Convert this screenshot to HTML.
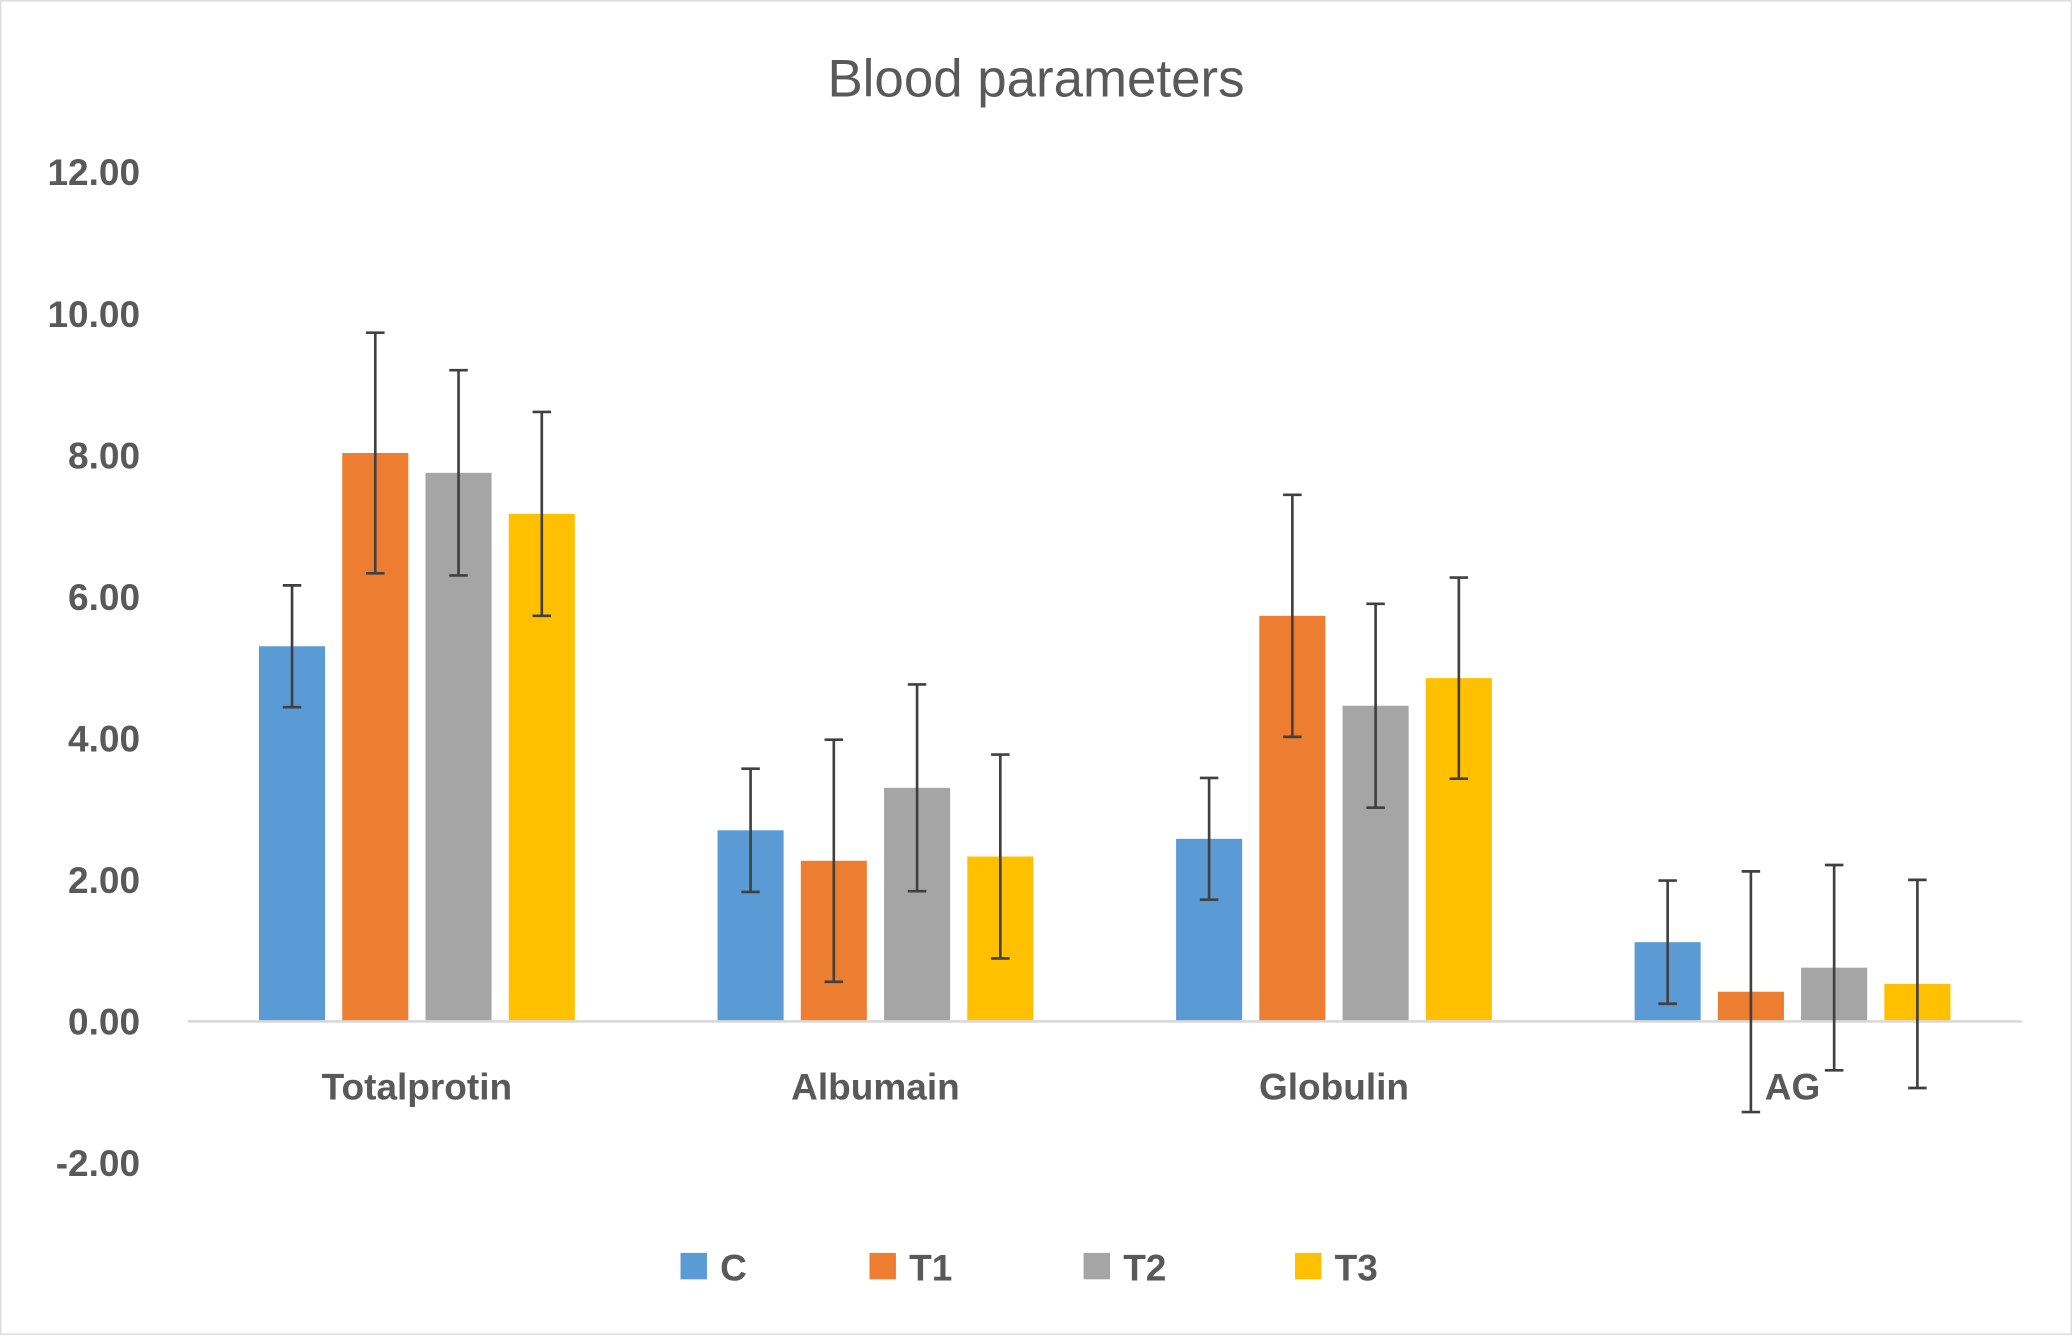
<!DOCTYPE html>
<html><head><meta charset="utf-8"><style>
html,body{margin:0;padding:0;background:#fff;}
svg{display:block;font-family:"Liberation Sans",sans-serif;}
</style></head><body>
<svg id="chart" width="2072" height="1335" viewBox="0 0 1568 1010" xmlns="http://www.w3.org/2000/svg">
<rect x="0.5" y="0.5" width="1567" height="1009" fill="#fff" stroke="#d9d9d9"/>
<text x="784" y="73" text-anchor="middle" font-size="40" fill="#595959">Blood parameters</text>
<g id="plot"></g>
</svg>
<script>
const categories = ["Totalprotin","Albumain","Globulin","AG"];
const seriesNames = ["C","T1","T2","T3"];
const colors = ["#5b9bd5","#ed7d31","#a5a5a5","#ffc000"];
const valuesC  = [5.30, 2.70, 2.58, 1.12];
const valuesT1 = [8.03, 2.27, 5.73, 0.42];
const valuesT2 = [7.75, 3.30, 4.46, 0.76];
const valuesT3 = [7.17, 2.33, 4.85, 0.53];
const errC  = [0.86, 0.87, 0.86, 0.87];
const errT1 = [1.70, 1.71, 1.71, 1.70];
const errT2 = [1.45, 1.46, 1.44, 1.45];
const errT3 = [1.44, 1.44, 1.42, 1.47];
const yTicks = [-2, 0, 2, 4, 6, 8, 10, 12];

const NS = "http://www.w3.org/2000/svg";
const plot = document.getElementById("plot");
const x0 = 142, x1 = 1530, yTop = 130, yBot = 880, yMin = -2, yMax = 12;
function y(v){ return yBot - (v - yMin) / (yMax - yMin) * (yBot - yTop); }
const groupW = (x1 - x0) / categories.length;
function groupCenter(i){ return x0 + groupW * (i + 0.5); }
const barW = 50, step = 63;
function barX(i, s){ return groupCenter(i) - 1.5 * step + s * step - barW / 2; }
function mk(tag, attrs){ const e = document.createElementNS(NS, tag); for (const k in attrs) e.setAttribute(k, attrs[k]); plot.appendChild(e); return e; }

yTicks.forEach(t => {
  const e = mk("text", {x: 106, y: y(t) + 10, "text-anchor": "end", "font-size": 28, "font-weight": "bold", fill: "#595959"});
  e.textContent = t.toFixed(2);
  
  
});

const allVals = [valuesC, valuesT1, valuesT2, valuesT3];
const allErr = [errC, errT1, errT2, errT3];
allVals.forEach((vals, s) => {
  vals.forEach((v, i) => {
    const top = Math.min(y(v), y(0)), h = Math.abs(y(v) - y(0));
    const r = mk("rect", {x: barX(i, s), y: top, width: barW, height: h, fill: colors[s]});
    
    
  });
});

const axis = mk("line", {x1: x0, x2: x1, y1: y(0), y2: y(0), stroke: "#d9d9d9", "stroke-width": 2});



allVals.forEach((vals, s) => {
  vals.forEach((v, i) => {
    const cx = barX(i, s) + barW / 2, e = allErr[s][i];
    const g = document.createElementNS(NS, "g");
    
    
    plot.appendChild(g);
    [[cx, y(v + e), cx, y(v - e)], [cx - 7, y(v + e), cx + 7, y(v + e)], [cx - 7, y(v - e), cx + 7, y(v - e)]].forEach(c => {
      const l = document.createElementNS(NS, "line");
      l.setAttribute("x1", c[0]); l.setAttribute("y1", c[1]); l.setAttribute("x2", c[2]); l.setAttribute("y2", c[3]);
      l.setAttribute("stroke", "#404040"); l.setAttribute("stroke-width", 2);
      g.appendChild(l);
    });
  });
});

categories.forEach((c, i) => {
  const t = mk("text", {x: groupCenter(i), y: 832, "text-anchor": "middle", "font-size": 28, "font-weight": "bold", fill: "#595959"});
  t.textContent = c;
  
  
});

const legendX = [515, 658, 820, 980];
seriesNames.forEach((n, s) => {
  const g = document.createElementNS(NS, "g");
  
  
  plot.appendChild(g);
  const r = document.createElementNS(NS, "rect");
  r.setAttribute("x", legendX[s]); r.setAttribute("y", 948); r.setAttribute("width", 20); r.setAttribute("height", 20); r.setAttribute("fill", colors[s]);
  g.appendChild(r);
  const t = document.createElementNS(NS, "text");
  t.setAttribute("x", legendX[s] + 30); t.setAttribute("y", 969); t.setAttribute("font-size", 28); t.setAttribute("font-weight", "bold"); t.setAttribute("fill", "#595959");
  t.textContent = n;
  g.appendChild(t);
});
</script>
</body></html>
